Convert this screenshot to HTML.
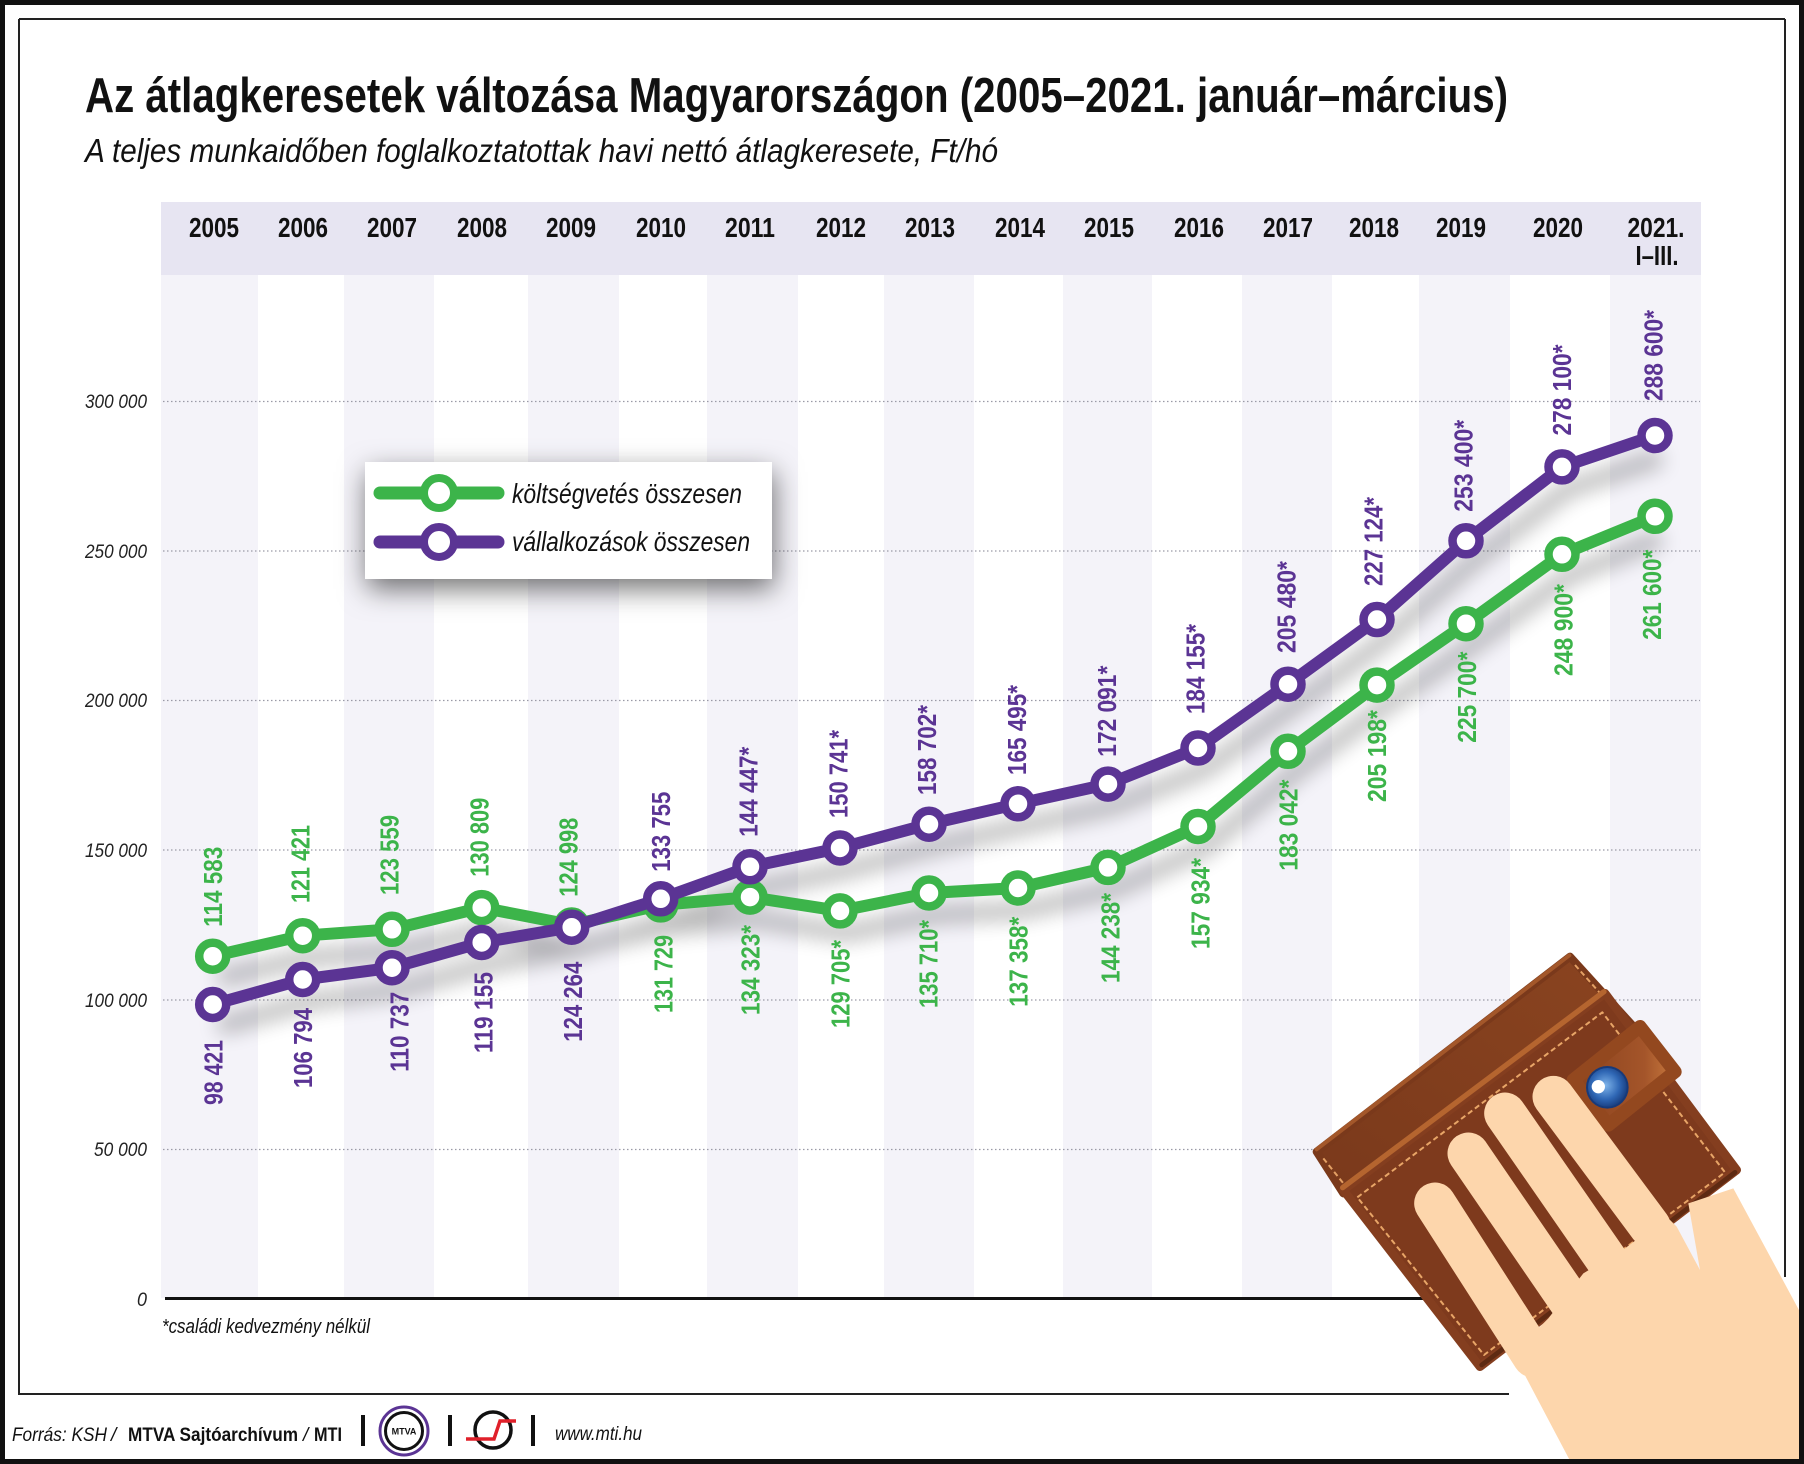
<!DOCTYPE html>
<html><head><meta charset="utf-8"><style>
html,body{margin:0;padding:0;background:#fff;}
svg{display:block;}
text{font-family:"Liberation Sans",Arial,sans-serif;}
</style></head><body>
<svg width="1804" height="1464" viewBox="0 0 1804 1464" xmlns="http://www.w3.org/2000/svg">
<defs>
<filter id="blur" x="-10%" y="-30%" width="120%" height="160%"><feGaussianBlur stdDeviation="10"/></filter>
<filter id="lgsh" x="-20%" y="-40%" width="140%" height="190%"><feDropShadow dx="2" dy="10" stdDeviation="14" flood-color="#000" flood-opacity="0.55"/></filter>
<radialGradient id="btn" cx="0.45" cy="0.45" r="0.6"><stop offset="0" stop-color="#7fb4ea"/><stop offset="0.6" stop-color="#2f67b5"/><stop offset="1" stop-color="#173a7a"/></radialGradient>
<linearGradient id="tabg" x1="0" y1="0" x2="1" y2="0"><stop offset="0" stop-color="#8a421d"/><stop offset="0.7" stop-color="#a4552a"/><stop offset="1" stop-color="#c8793e"/></linearGradient>
<linearGradient id="backg" x1="0" y1="1" x2="1" y2="0"><stop offset="0" stop-color="#7a391b"/><stop offset="1" stop-color="#8a4420"/></linearGradient>
</defs>

<rect width="1804" height="1464" fill="#fff"/>

<!-- stripes -->
<g fill="#f4f3f9">
<rect x="161" y="275" width="97" height="1023"/>
<rect x="344" y="275" width="90" height="1023"/>
<rect x="528" y="275" width="91" height="1023"/>
<rect x="707" y="275" width="91" height="1023"/>
<rect x="884" y="275" width="90" height="1023"/>
<rect x="1063" y="275" width="89" height="1023"/>
<rect x="1242" y="275" width="90" height="1023"/>
<rect x="1419" y="275" width="91" height="1023"/>
<rect x="1610" y="275" width="91" height="1023"/>
</g>
<!-- header band -->
<rect x="161" y="202" width="1540" height="73" fill="#e7e5f2"/>

<!-- year labels -->
<g font-weight="bold" font-size="28" fill="#111" text-anchor="middle">
<text x="214" y="237" textLength="50" lengthAdjust="spacingAndGlyphs">2005</text>
<text x="303" y="237" textLength="50" lengthAdjust="spacingAndGlyphs">2006</text>
<text x="392" y="237" textLength="50" lengthAdjust="spacingAndGlyphs">2007</text>
<text x="482" y="237" textLength="50" lengthAdjust="spacingAndGlyphs">2008</text>
<text x="571" y="237" textLength="50" lengthAdjust="spacingAndGlyphs">2009</text>
<text x="661" y="237" textLength="50" lengthAdjust="spacingAndGlyphs">2010</text>
<text x="750" y="237" textLength="50" lengthAdjust="spacingAndGlyphs">2011</text>
<text x="841" y="237" textLength="50" lengthAdjust="spacingAndGlyphs">2012</text>
<text x="930" y="237" textLength="50" lengthAdjust="spacingAndGlyphs">2013</text>
<text x="1020" y="237" textLength="50" lengthAdjust="spacingAndGlyphs">2014</text>
<text x="1109" y="237" textLength="50" lengthAdjust="spacingAndGlyphs">2015</text>
<text x="1199" y="237" textLength="50" lengthAdjust="spacingAndGlyphs">2016</text>
<text x="1288" y="237" textLength="50" lengthAdjust="spacingAndGlyphs">2017</text>
<text x="1374" y="237" textLength="50" lengthAdjust="spacingAndGlyphs">2018</text>
<text x="1461" y="237" textLength="50" lengthAdjust="spacingAndGlyphs">2019</text>
<text x="1558" y="237" textLength="50" lengthAdjust="spacingAndGlyphs">2020</text>
<text x="1656" y="237" textLength="57" lengthAdjust="spacingAndGlyphs">2021.</text>
<text x="1657" y="265" textLength="43" lengthAdjust="spacingAndGlyphs">I–III.</text>
</g>

<!-- gridlines -->
<g stroke="#9a9aa6" stroke-width="1.3" stroke-dasharray="1.5 2.5">
<line x1="163" y1="401.5" x2="1700" y2="401.5"/>
<line x1="163" y1="551" x2="1700" y2="551"/>
<line x1="163" y1="700.5" x2="1700" y2="700.5"/>
<line x1="163" y1="850" x2="1700" y2="850"/>
<line x1="163" y1="1000" x2="1700" y2="1000"/>
<line x1="163" y1="1149.5" x2="1700" y2="1149.5"/>
</g>
<line x1="165" y1="1298.5" x2="1700" y2="1298.5" stroke="#111" stroke-width="3"/>

<!-- y axis labels -->
<g font-style="italic" font-size="19" fill="#222">
<text x="85" y="408" textLength="62" lengthAdjust="spacingAndGlyphs">300 000</text>
<text x="85" y="558" textLength="62" lengthAdjust="spacingAndGlyphs">250 000</text>
<text x="85" y="707" textLength="62" lengthAdjust="spacingAndGlyphs">200 000</text>
<text x="85" y="857" textLength="62" lengthAdjust="spacingAndGlyphs">150 000</text>
<text x="85" y="1007" textLength="62" lengthAdjust="spacingAndGlyphs">100 000</text>
<text x="94" y="1156" textLength="53" lengthAdjust="spacingAndGlyphs">50 000</text>
<text x="137" y="1306" textLength="10" lengthAdjust="spacingAndGlyphs">0</text>
</g>

<!-- line shadows -->
<g filter="url(#blur)" opacity="0.28" transform="translate(6,22)" fill="none" stroke="#000" stroke-width="16" stroke-linejoin="round">
<polyline points="212.7,956.2 302.7,935.7 392,929.3 481.7,907.6 571.7,925.0 660.7,904.9 750,897.1 840,910.9 929,893.0 1018,888.0 1108,867.4 1198,826.5 1288,751.3 1377,685.1 1466,623.7 1562,554.3 1655,516.3"/>
<polyline points="212.7,1004.5 302.7,979.5 392,967.7 481.7,942.5 571.7,927.2 660.7,898.8 750,866.8 840,848.0 929,824.2 1018,803.8 1108,784.1 1198,748.0 1288,684.2 1377,619.5 1466,540.8 1562,466.9 1655,435.5"/>
</g>

<!-- green series -->
<polyline fill="none" stroke="#3cb44a" stroke-width="12" stroke-linejoin="round" points="212.7,956.2 302.7,935.7 392,929.3 481.7,907.6 571.7,925.0 660.7,904.9 750,897.1 840,910.9 929,893.0 1018,888.0 1108,867.4 1198,826.5 1288,751.3 1377,685.1 1466,623.7 1562,554.3 1655,516.3"/>
<g fill="#fff" stroke="#3cb44a" stroke-width="8.5">
<circle cx="212.7" cy="956.2" r="13.5"/><circle cx="302.7" cy="935.7" r="13.5"/><circle cx="392" cy="929.3" r="13.5"/><circle cx="481.7" cy="907.6" r="13.5"/><circle cx="571.7" cy="925.0" r="13.5"/><circle cx="660.7" cy="904.9" r="13.5"/><circle cx="750" cy="897.1" r="13.5"/><circle cx="840" cy="910.9" r="13.5"/><circle cx="929" cy="893.0" r="13.5"/><circle cx="1018" cy="888.0" r="13.5"/><circle cx="1108" cy="867.4" r="13.5"/><circle cx="1198" cy="826.5" r="13.5"/><circle cx="1288" cy="751.3" r="13.5"/><circle cx="1377" cy="685.1" r="13.5"/><circle cx="1466" cy="623.7" r="13.5"/><circle cx="1562" cy="554.3" r="13.5"/><circle cx="1655" cy="516.3" r="13.5"/>
</g>

<!-- purple series -->
<polyline fill="none" stroke="#5b3494" stroke-width="12" stroke-linejoin="round" points="212.7,1004.5 302.7,979.5 392,967.7 481.7,942.5 571.7,927.2 660.7,898.8 750,866.8 840,848.0 929,824.2 1018,803.8 1108,784.1 1198,748.0 1288,684.2 1377,619.5 1466,540.8 1562,466.9 1655,435.5"/>
<g fill="#fff" stroke="#5b3494" stroke-width="8.5">
<circle cx="212.7" cy="1004.5" r="13.5"/><circle cx="302.7" cy="979.5" r="13.5"/><circle cx="392" cy="967.7" r="13.5"/><circle cx="481.7" cy="942.5" r="13.5"/><circle cx="571.7" cy="927.2" r="13.5"/><circle cx="660.7" cy="898.8" r="13.5"/><circle cx="750" cy="866.8" r="13.5"/><circle cx="840" cy="848.0" r="13.5"/><circle cx="929" cy="824.2" r="13.5"/><circle cx="1018" cy="803.8" r="13.5"/><circle cx="1108" cy="784.1" r="13.5"/><circle cx="1198" cy="748.0" r="13.5"/><circle cx="1288" cy="684.2" r="13.5"/><circle cx="1377" cy="619.5" r="13.5"/><circle cx="1466" cy="540.8" r="13.5"/><circle cx="1562" cy="466.9" r="13.5"/><circle cx="1655" cy="435.5" r="13.5"/>
</g>

<!-- green labels -->
<g font-weight="bold" font-size="26" fill="#3cb44a">
<text transform="translate(222,926.7) rotate(-90)" textLength="80" lengthAdjust="spacingAndGlyphs">114 583</text>
<text transform="translate(309.3,903) rotate(-90)" textLength="78" lengthAdjust="spacingAndGlyphs">121 421</text>
<text transform="translate(398.3,895) rotate(-90)" textLength="80" lengthAdjust="spacingAndGlyphs">123 559</text>
<text transform="translate(488.3,876.7) rotate(-90)" textLength="79" lengthAdjust="spacingAndGlyphs">130 809</text>
<text transform="translate(577.3,896.7) rotate(-90)" textLength="79" lengthAdjust="spacingAndGlyphs">124 998</text>
<text transform="translate(672.3,1013) rotate(-90)" textLength="78" lengthAdjust="spacingAndGlyphs">131 729</text>
<text transform="translate(759.3,1015) rotate(-90)" textLength="90" lengthAdjust="spacingAndGlyphs">134 323*</text>
<text transform="translate(849.3,1028) rotate(-90)" textLength="88" lengthAdjust="spacingAndGlyphs">129 705*</text>
<text transform="translate(937.3,1008) rotate(-90)" textLength="88" lengthAdjust="spacingAndGlyphs">135 710*</text>
<text transform="translate(1027.3,1006.7) rotate(-90)" textLength="90" lengthAdjust="spacingAndGlyphs">137 358*</text>
<text transform="translate(1119.3,983) rotate(-90)" textLength="90" lengthAdjust="spacingAndGlyphs">144 238*</text>
<text transform="translate(1209.3,949) rotate(-90)" textLength="91" lengthAdjust="spacingAndGlyphs">157 934*</text>
<text transform="translate(1297.3,870.6) rotate(-90)" textLength="91" lengthAdjust="spacingAndGlyphs">183 042*</text>
<text transform="translate(1386,802) rotate(-90)" textLength="92" lengthAdjust="spacingAndGlyphs">205 198*</text>
<text transform="translate(1476,742.7) rotate(-90)" textLength="91" lengthAdjust="spacingAndGlyphs">225 700*</text>
<text transform="translate(1572.3,676) rotate(-90)" textLength="92" lengthAdjust="spacingAndGlyphs">248 900*</text>
<text transform="translate(1661,639.7) rotate(-90)" textLength="90" lengthAdjust="spacingAndGlyphs">261 600*</text>
</g>

<!-- purple labels -->
<g font-weight="bold" font-size="26" fill="#5b3494">
<text transform="translate(222.3,1105) rotate(-90)" textLength="65" lengthAdjust="spacingAndGlyphs">98 421</text>
<text transform="translate(312,1088) rotate(-90)" textLength="80" lengthAdjust="spacingAndGlyphs">106 794</text>
<text transform="translate(408.3,1071.7) rotate(-90)" textLength="80" lengthAdjust="spacingAndGlyphs">110 737</text>
<text transform="translate(492.3,1053) rotate(-90)" textLength="81" lengthAdjust="spacingAndGlyphs">119 155</text>
<text transform="translate(582,1041.7) rotate(-90)" textLength="80" lengthAdjust="spacingAndGlyphs">124 264</text>
<text transform="translate(670,871.7) rotate(-90)" textLength="80" lengthAdjust="spacingAndGlyphs">133 755</text>
<text transform="translate(757.3,836.7) rotate(-90)" textLength="90" lengthAdjust="spacingAndGlyphs">144 447*</text>
<text transform="translate(847.3,818) rotate(-90)" textLength="88" lengthAdjust="spacingAndGlyphs">150 741*</text>
<text transform="translate(936,795) rotate(-90)" textLength="90" lengthAdjust="spacingAndGlyphs">158 702*</text>
<text transform="translate(1026,775) rotate(-90)" textLength="90" lengthAdjust="spacingAndGlyphs">165 495*</text>
<text transform="translate(1116,756.7) rotate(-90)" textLength="91" lengthAdjust="spacingAndGlyphs">172 091*</text>
<text transform="translate(1204.3,714) rotate(-90)" textLength="90" lengthAdjust="spacingAndGlyphs">184 155*</text>
<text transform="translate(1295.3,653) rotate(-90)" textLength="92" lengthAdjust="spacingAndGlyphs">205 480*</text>
<text transform="translate(1382.3,586) rotate(-90)" textLength="89" lengthAdjust="spacingAndGlyphs">227 124*</text>
<text transform="translate(1472.3,511.8) rotate(-90)" textLength="92" lengthAdjust="spacingAndGlyphs">253 400*</text>
<text transform="translate(1571,435.5) rotate(-90)" textLength="91" lengthAdjust="spacingAndGlyphs">278 100*</text>
<text transform="translate(1662.3,401) rotate(-90)" textLength="91" lengthAdjust="spacingAndGlyphs">288 600*</text>
</g>

<!-- legend -->
<rect x="365" y="462" width="407" height="117" fill="#fff" filter="url(#lgsh)"/>
<line x1="380" y1="493" x2="498" y2="493" stroke="#3cb44a" stroke-width="13" stroke-linecap="round"/>
<circle cx="439" cy="493" r="15" fill="#fff" stroke="#3cb44a" stroke-width="8"/>
<line x1="380" y1="542" x2="498" y2="542" stroke="#5b3494" stroke-width="13" stroke-linecap="round"/>
<circle cx="439" cy="542" r="15" fill="#fff" stroke="#5b3494" stroke-width="8"/>
<g font-style="italic" font-size="28" fill="#111">
<text x="512" y="503" textLength="230" lengthAdjust="spacingAndGlyphs">költségvetés összesen</text>
<text x="512" y="551" textLength="238" lengthAdjust="spacingAndGlyphs">vállalkozások összesen</text>
</g>

<!-- title -->
<text x="85" y="112" font-weight="bold" font-size="49" fill="#111" textLength="1423" lengthAdjust="spacingAndGlyphs">Az átlagkeresetek változása Magyarországon (2005–2021. január–március)</text>
<text x="85" y="162" font-style="italic" font-size="33" fill="#111" textLength="913" lengthAdjust="spacingAndGlyphs">A teljes munkaidőben foglalkoztatottak havi nettó átlagkeresete, Ft/hó</text>

<text x="162" y="1333" font-style="italic" font-size="20" fill="#111" textLength="208" lengthAdjust="spacingAndGlyphs">*családi kedvezmény nélkül</text>

<!-- frame -->
<g stroke="#222" stroke-width="2" fill="none">
<line x1="19" y1="19" x2="1785" y2="19"/>
<line x1="19" y1="19" x2="19" y2="1395"/>
<line x1="1785" y1="19" x2="1785" y2="1277"/>
<line x1="19" y1="1394" x2="1509" y2="1394"/>
</g>

<!-- wallet and hand -->
<g transform="translate(1300,940) scale(0.333333)">
<polygon points="50,635 810,50 1010,270 130,760" fill="url(#backg)" stroke="#7a391b" stroke-width="24" stroke-linejoin="round"/>
<line x1="50" y1="628" x2="808" y2="46" stroke="#a3572a" stroke-width="12" stroke-linecap="round"/>
<line x1="825" y1="75" x2="985" y2="255" stroke="#e4a064" stroke-width="6" stroke-dasharray="16 10"/>
<line x1="70" y1="655" x2="150" y2="755" stroke="#e4a064" stroke-width="6" stroke-dasharray="16 10"/>
<polygon points="130,750 915,160 1310,690 540,1280" fill="#7e3a1d" stroke="#843e1f" stroke-width="26" stroke-linejoin="round"/>
<line x1="545" y1="1275" x2="1305" y2="697" stroke="#5e2a12" stroke-width="14" stroke-linecap="round"/>
<line x1="128" y1="743" x2="912" y2="155" stroke="#b5652f" stroke-width="16" stroke-linecap="round"/>
<polygon points="172,772 907,217 1275,697 552,1245" fill="none" stroke="#e8a567" stroke-width="6" stroke-dasharray="16 10" stroke-linejoin="round"/>
<polygon points="820,420 1020,260 1125,395 925,555" fill="url(#tabg)" stroke="#93481f" stroke-width="40" stroke-linejoin="round"/>
<circle cx="922" cy="442" r="64" fill="#173a7a"/>
<circle cx="922" cy="442" r="58" fill="url(#btn)"/>
<circle cx="895" cy="440" r="20" fill="#fff"/>
<g fill="#fdd6ac" stroke="#fdd6ac">
<line x1="405" y1="790" x2="700" y2="1250" stroke-width="125" stroke-linecap="round"/>
<line x1="505" y1="640" x2="820" y2="1100" stroke-width="125" stroke-linecap="round"/>
<line x1="615" y1="520" x2="920" y2="960" stroke-width="125" stroke-linecap="round"/>
<line x1="760" y1="470" x2="1050" y2="860" stroke-width="125" stroke-linecap="round"/>
<polygon stroke="none" points="640,1240 745,1135 850,1000 975,925 1100,830 1130,860 1200,990 1165,790 1300,745 1540,1190 1540,1600 830,1600"/>
</g>
</g>

<!-- footer -->
<g font-size="19" fill="#111">
<text x="12" y="1441" font-style="italic" textLength="95" lengthAdjust="spacingAndGlyphs">Forrás: KSH</text>
<text x="111" y="1441" font-style="italic">/</text>
<text x="128" y="1441" font-weight="bold" textLength="170" lengthAdjust="spacingAndGlyphs">MTVA Sajtóarchívum</text>
<text x="303" y="1441" font-style="italic">/</text>
<text x="314" y="1441" font-weight="bold" textLength="28" lengthAdjust="spacingAndGlyphs">MTI</text>
<text x="555" y="1440" font-style="italic" textLength="87" lengthAdjust="spacingAndGlyphs">www.mti.hu</text>
</g>
<g fill="#111">
<rect x="361" y="1415" width="4" height="31"/>
<rect x="448" y="1415" width="4" height="31"/>
<rect x="531" y="1415" width="4" height="31"/>
</g>
<circle cx="404" cy="1431" r="24" fill="none" stroke="#5b3494" stroke-width="3"/>
<circle cx="404" cy="1431" r="18.5" fill="#fff" stroke="#111" stroke-width="3"/>
<text x="404" y="1434.5" font-size="9" font-weight="bold" text-anchor="middle" fill="#111">MTVA</text>
<circle cx="493" cy="1430" r="18" fill="none" stroke="#111" stroke-width="3.5"/>
<polyline points="466,1439 494,1439 500,1421 516,1421" fill="none" stroke="#e0202a" stroke-width="3.5"/>

<!-- outer border -->
<rect x="2.5" y="2.5" width="1799" height="1459" fill="none" stroke="#111" stroke-width="5"/>
</svg>
</body></html>
